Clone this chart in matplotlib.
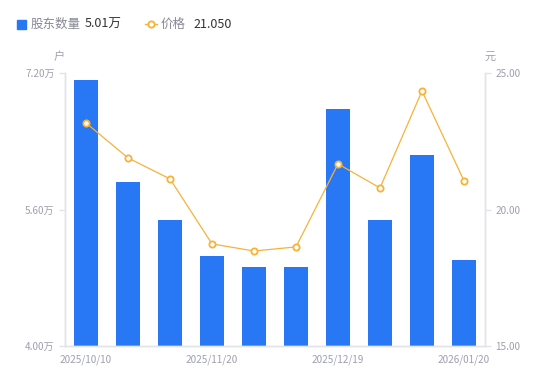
import matplotlib
matplotlib.use('Agg')
import matplotlib.pyplot as plt
from matplotlib.lines import Line2D

plt.rcParams['font.family'] = ['Noto Sans CJK SC', 'DejaVu Sans']

# data
dates = ['2025/10/10', '2025/10/24', '2025/10/31', '2025/11/20', '2025/11/28',
         '2025/12/10', '2025/12/19', '2025/12/31', '2026/01/09', '2026/01/20']
holders = [7.12, 5.92, 5.48, 5.05, 4.93, 4.93, 6.78, 5.48, 6.24, 5.01]  # 万户
price = [23.17, 21.89, 21.12, 18.74, 18.48, 18.63, 21.67, 20.79, 24.34, 21.05]
shown_dates = ['2025/10/10', '2025/11/20', '2025/12/19', '2026/01/20']

BLUE = '#2878f5'
ORANGE = '#f7b239'
GRAY = '#9ea0ae'
AXIS = '#e3e4ea'

fig = plt.figure(figsize=(5.5, 3.81), dpi=100)
ax = fig.add_axes([65 / 550, 1 - 346 / 381, 420 / 550, 273 / 381])
ax2 = ax.twinx()

x = list(range(len(dates)))
ax.bar(x, holders, width=0.58, color=BLUE, zorder=2)
ax.set_ylim(4.0, 7.2)
ax.set_xlim(-0.5, len(dates) - 0.5)
ax.set_yticks([4.0, 5.6, 7.2])
ax.set_yticklabels([f'{v:.2f}万' for v in [4.0, 5.6, 7.2]])

ax2.plot(x, price, color=ORANGE, lw=0.9, marker='o', ms=4.5,
         markerfacecolor='white', markeredgecolor=ORANGE, markeredgewidth=1.3, zorder=3)
ax2.set_ylim(15, 25)
ax2.set_yticks([15, 20, 25])
ax2.set_yticklabels([f'{v:.2f}' for v in [15, 20, 25]])

ax.set_xticks([dates.index(d) for d in shown_dates])
ax.set_xticklabels(shown_dates)

for a in (ax, ax2):
    for s in a.spines.values():
        s.set_color(AXIS)
        s.set_linewidth(1)
    a.spines['top'].set_visible(False)
    a.tick_params(colors=AXIS, labelcolor=GRAY, labelsize=7.2, length=4, width=1)
ax.tick_params(axis='x', length=0, pad=6)

fig.text(59 / 550, 1 - 57 / 381, '户', color=GRAY, fontsize=8, ha='center', va='center')
fig.text(490 / 550, 1 - 57 / 381, '元', color=GRAY, fontsize=8, ha='center', va='center')

# legend row
fig.patches.append(plt.Rectangle((17 / 550, 1 - 29 / 381), 9 / 550, 9 / 381,
                                 transform=fig.transFigure, color=BLUE, figure=fig))
fig.text(31 / 550, 1 - 24 / 381, '股东数量', color='#888896', fontsize=9, va='center')
fig.text(85 / 550, 1 - 24 / 381, f'{holders[-1]:.2f}万', color='#333333', fontsize=9, va='center')
fig.lines.append(Line2D([145 / 550, 157 / 550], [1 - 24 / 381] * 2, transform=fig.transFigure,
                        color=ORANGE, lw=1))
fig.lines.append(Line2D([151 / 550], [1 - 24 / 381], transform=fig.transFigure,
                        color=ORANGE, marker='o', ms=4.5, markerfacecolor='white',
                        markeredgecolor=ORANGE, markeredgewidth=1.3))
fig.text(161 / 550, 1 - 24 / 381, '价格', color='#888896', fontsize=9, va='center')
fig.text(193 / 550, 1 - 24 / 381, f'{price[-1]:.3f}', color='#333333', fontsize=9, va='center')

fig.savefig('out.png', dpi=100)
